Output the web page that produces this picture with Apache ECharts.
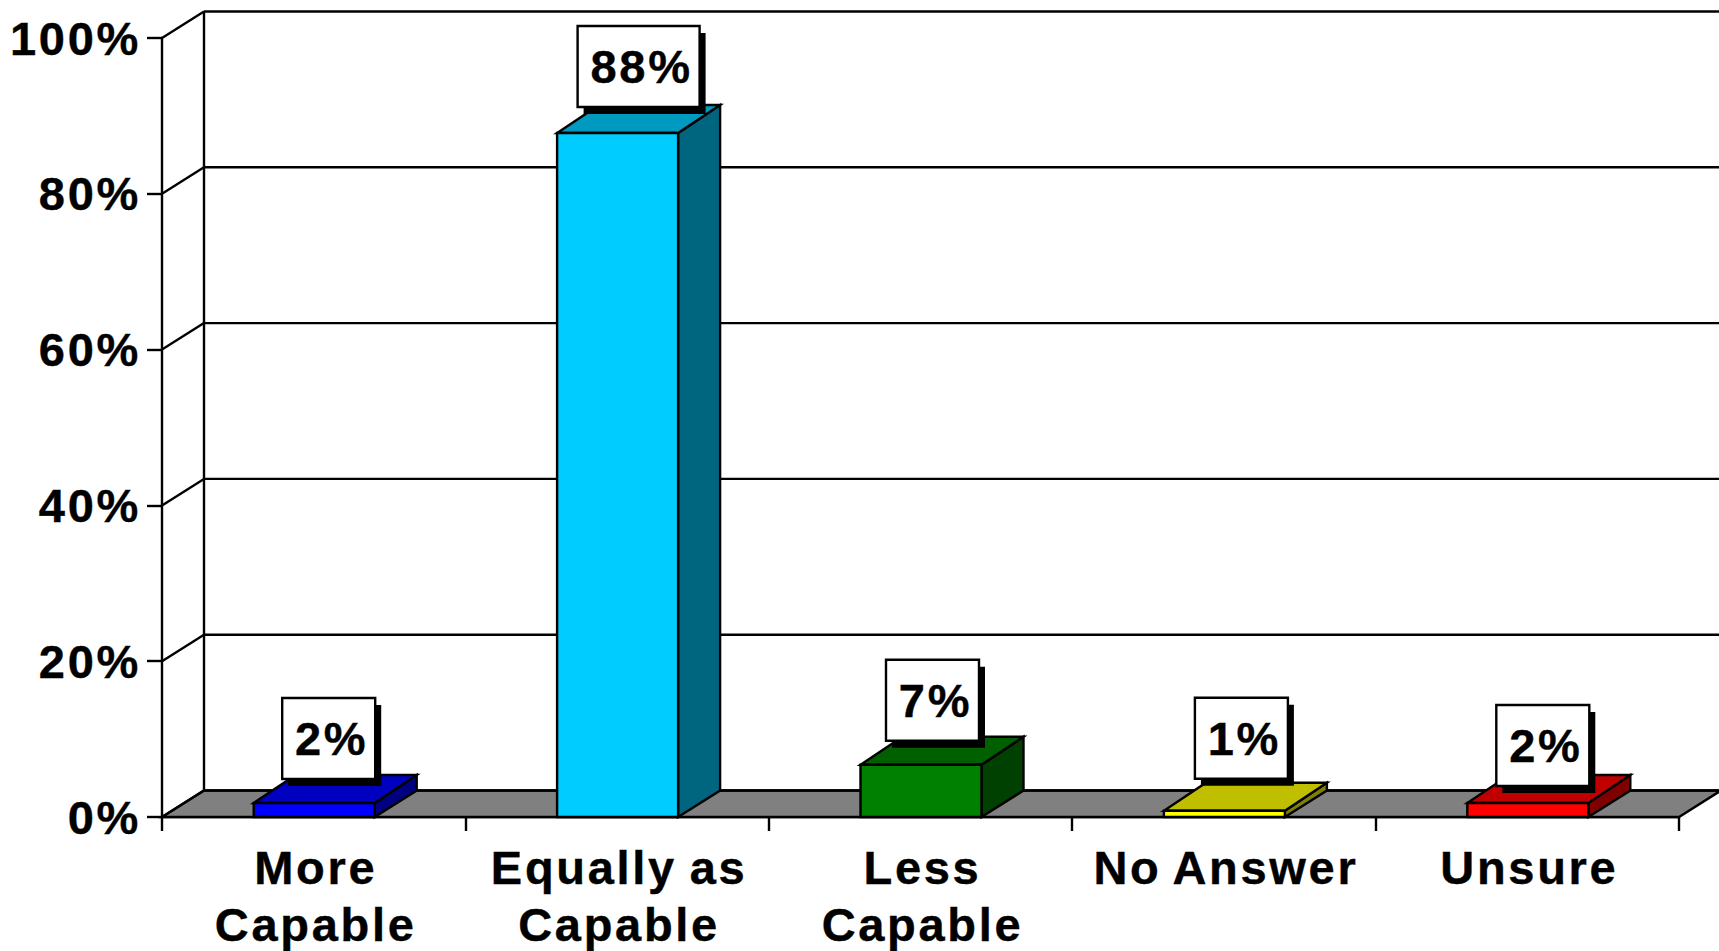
<!DOCTYPE html>
<html>
<head>
<meta charset="utf-8">
<style>
html,body{margin:0;padding:0;background:#fff;overflow:hidden}
#chart{width:1719px;height:951px}
#chart text{letter-spacing:2.7px;word-spacing:-3px;stroke:#000;stroke-width:0.4px}
</style>
<script src="https://cdn.jsdelivr.net/npm/echarts@6/dist/echarts.min.js"></script>
</head>
<body>
<div id="chart"></div>
<script>
const categories = ['More\nCapable', 'Equally as\nCapable', 'Less\nCapable', 'No Answer', 'Unsure'];
const values = [1.8, 87.8, 6.7, 0.8, 1.8];
const valueLabels = ['2%', '88%', '7%', '1%', '2%'];
const yTicks = [0, 20, 40, 60, 80, 100];

const frontColors = ['#0000FF', '#00CCFF', '#008000', '#FFFF00', '#FF0000'];
const topColors   = ['#0000C0', '#0099BF', '#006000', '#BFBF00', '#C00000'];
const sideColors  = ['#000080', '#006680', '#004000', '#808000', '#800000'];

// layout and style constants
const DX = 42, DY = -26.5, BAR_TOP_DY = -28, BAR_W = 121, LW = 2.4;
const boxNudgeX = [14.5, 21, 11.5, 17, 15];
const boxGapY = [24, 26, 24, 32, 17];
const font = {fontFamily: '"Liberation Sans", Arial, sans-serif', fontWeight: 'bold', fontSize: 47, color: '#000'};
const line = {stroke: '#000', lineWidth: LW};

const chart = echarts.init(document.getElementById('chart'), null, {renderer: 'svg'});

function floorItem(params, api) {
  const g = params.coordSys;
  const y0 = api.coord([0, 0])[1];
  const yTop = api.coord([0, 100])[1];
  const L = g.x, R = g.x + g.width;
  return {type: 'group', children: [
    {type: 'polygon', shape: {points: [[L, y0], [R, y0], [R + DX, y0 + DY], [L + DX, y0 + DY]]},
      style: {fill: '#808080', stroke: '#000', lineWidth: LW}},
    {type: 'line', shape: {x1: L + DX, y1: y0 + DY, x2: L + DX, y2: yTop + DY}, style: line}
  ]};
}

function wallItem(params, api) {
  const g = params.coordSys;
  const y = api.coord([0, api.value(0)])[1];
  const L = g.x, R = g.x + g.width;
  return {type: 'group', children: [
    {type: 'line', shape: {x1: L, y1: y, x2: L + DX, y2: y + DY}, style: line},
    {type: 'line', shape: {x1: L + DX, y1: y + DY, x2: R + DX, y2: y + DY}, style: line}
  ]};
}

function barItem(params, api) {
  const i = params.dataIndex;
  const base = api.coord([i, 0]);
  const top = api.coord([i, api.value(1)]);
  const xl = base[0] - BAR_W / 2 + 0.5, xr = xl + BAR_W;
  const yb = base[1], yt = top[1];
  const txt = valueLabels[i];
  const bw = 35 + 29 * txt.length, bh = 81;
  const cx = (xl + xr) / 2 + boxNudgeX[i];
  const bb = yt - boxGapY[i];
  return {type: 'group', children: [
    {type: 'polygon', shape: {points: [[xr, yb], [xr + DX, yb + DY], [xr + DX, yt + BAR_TOP_DY], [xr, yt]]},
      style: {fill: sideColors[i], stroke: '#000', lineWidth: LW}},
    {type: 'polygon', shape: {points: [[xl, yt], [xr, yt], [xr + DX, yt + BAR_TOP_DY], [xl + DX, yt + BAR_TOP_DY]]},
      style: {fill: topColors[i], stroke: '#000', lineWidth: LW}},
    {type: 'rect', shape: {x: xl, y: yt, width: BAR_W, height: yb - yt},
      style: {fill: frontColors[i], stroke: '#000', lineWidth: LW}},
    {type: 'rect', shape: {x: cx - bw / 2 + 6, y: bb - bh + 7, width: bw, height: bh},
      style: {fill: '#000'}},
    {type: 'rect', shape: {x: cx - bw / 2, y: bb - bh, width: bw, height: bh},
      style: {fill: '#fff', stroke: '#000', lineWidth: LW}},
    {type: 'text', style: {text: txt, x: cx + 3, y: bb - bh / 2, textAlign: 'center', textVerticalAlign: 'middle',
      fontFamily: font.fontFamily, fontWeight: 'bold', fontSize: 47, fill: '#000'}}
  ]};
}

chart.setOption({
  animation: false,
  backgroundColor: '#fff',
  grid: {left: 162, right: 40, top: 38, bottom: 134, containLabel: false, outerBoundsMode: 'none'},
  xAxis: {
    type: 'category', data: categories,
    axisLine: {lineStyle: {color: '#000', width: LW}},
    axisTick: {show: true, alignWithLabel: false, interval: 0, length: 14, lineStyle: {color: '#000', width: LW}},
    axisLabel: Object.assign({interval: 0, margin: 22, lineHeight: 57, padding: [0, 0, 0, 4]}, font),
    splitLine: {show: false}
  },
  yAxis: {
    type: 'value', min: 0, max: 100, interval: 20,
    axisLine: {show: true, lineStyle: {color: '#000', width: LW}},
    axisTick: {show: true, length: 15, lineStyle: {color: '#000', width: LW}},
    axisLabel: Object.assign({margin: 21, formatter: '{value}%'}, font),
    splitLine: {show: false}
  },
  series: [
    {type: 'custom', z: 2, coordinateSystem: 'cartesian2d', silent: true, clip: false,
      data: [[0, 0]], encode: {x: 0, y: 1}, renderItem: floorItem},
    {type: 'custom', z: 3, coordinateSystem: 'cartesian2d', silent: true, clip: false,
      data: yTicks.map(v => [v]), encode: {y: 0}, renderItem: wallItem},
    {type: 'custom', z: 4, coordinateSystem: 'cartesian2d', silent: true, clip: false,
      data: values.map((v, i) => [i, v]), encode: {x: 0, y: 1}, renderItem: barItem}
  ]
});
</script>
</body>
</html>
